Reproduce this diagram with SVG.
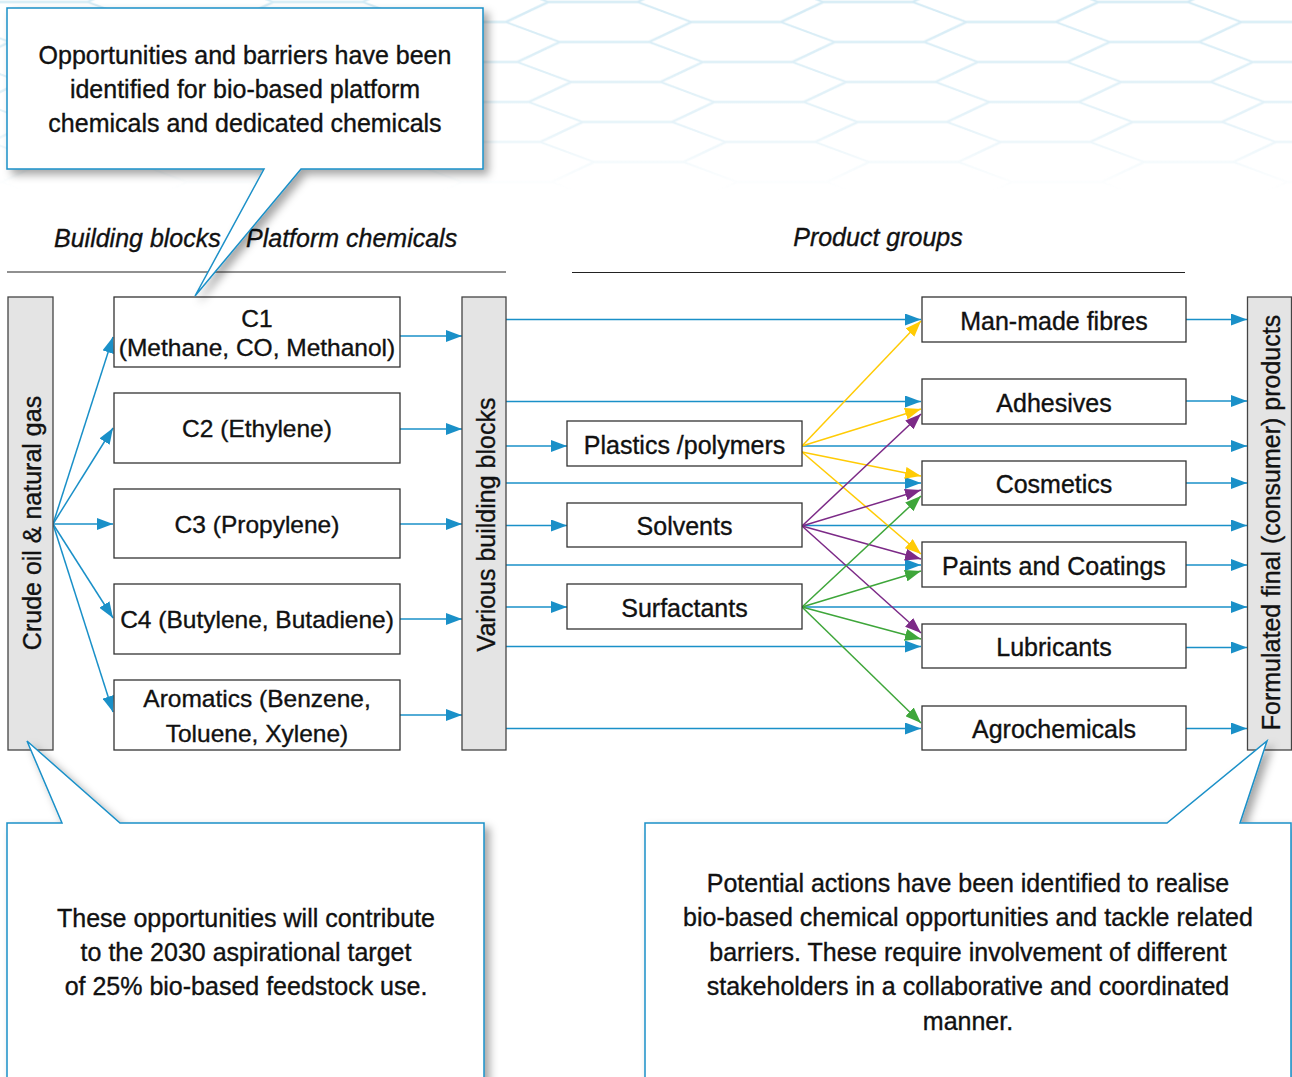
<svg xmlns="http://www.w3.org/2000/svg" width="1292" height="1077" viewBox="0 0 1292 1077">
  <defs>
    <style>
      text { font-family: "Liberation Sans", Arial, sans-serif; fill: #111; stroke: #111; stroke-width: 0.35; }
      .lbl { font-size: 25px; text-anchor: middle; }
      .clbl { font-size: 24.5px; text-anchor: middle; }
      .hdr { font-size: 25px; font-style: italic; }
      .box { fill: #fff; stroke: #333; stroke-width: 1.3; }
      .bar { fill: #e4e4e4; stroke: #444; stroke-width: 1.3; }
      .rule { stroke: #222; stroke-width: 1.2; }
      .callout { fill: #fff; stroke: #1a90c8; stroke-width: 1.5; filter: url(#shadow); }
      .blue { stroke: #1a90c8; stroke-width: 1.5; fill: none; marker-end: url(#ahBlue); }
      .yel { stroke: #ffcb05; stroke-width: 1.5; fill: none; marker-end: url(#ahYel); }
      .pur { stroke: #7c2a87; stroke-width: 1.5; fill: none; marker-end: url(#ahPur); }
      .grn { stroke: #3ea63a; stroke-width: 1.5; fill: none; marker-end: url(#ahGrn); }
    </style>
    <marker id="ahBlue" viewBox="0 0 16 12" refX="16" refY="6" markerWidth="16" markerHeight="12" markerUnits="userSpaceOnUse" orient="auto">
      <path d="M0,0 L16,6 L0,12 Z" fill="#1a90c8"/>
    </marker>
    <marker id="ahYel" viewBox="0 0 16 12" refX="16" refY="6" markerWidth="16" markerHeight="12" markerUnits="userSpaceOnUse" orient="auto">
      <path d="M0,0 L16,6 L0,12 Z" fill="#ffcb05"/>
    </marker>
    <marker id="ahPur" viewBox="0 0 16 12" refX="16" refY="6" markerWidth="16" markerHeight="12" markerUnits="userSpaceOnUse" orient="auto">
      <path d="M0,0 L16,6 L0,12 Z" fill="#7c2a87"/>
    </marker>
    <marker id="ahGrn" viewBox="0 0 16 12" refX="16" refY="6" markerWidth="16" markerHeight="12" markerUnits="userSpaceOnUse" orient="auto">
      <path d="M0,0 L16,6 L0,12 Z" fill="#3ea63a"/>
    </marker>
    <filter id="shadow" x="-10%" y="-10%" width="125%" height="130%">
      <feDropShadow dx="5" dy="5" stdDeviation="4" flood-color="#000" flood-opacity="0.35"/>
    </filter>
    <!-- skewed honeycomb background texture -->
    <pattern id="hex" width="275" height="40" patternUnits="userSpaceOnUse" patternTransform="skewX(16) translate(-2.2,32)">
      <path d="M0,10 H89 L137.5,30 H226.5 L275,10 M89,10 L137.5,-10 M89,50 L137.5,30 M226.5,30 L275,50 M226.5,-10 L275,10" fill="none" stroke="#d4ebf5" stroke-width="2.2"/>
    </pattern>
    <linearGradient id="fadeGrad" gradientUnits="userSpaceOnUse" x1="0" y1="0" x2="0" y2="190">
      <stop offset="0" stop-color="#fff" stop-opacity="1"/>
      <stop offset="0.65" stop-color="#fff" stop-opacity="0.6"/>
      <stop offset="1" stop-color="#fff" stop-opacity="0"/>
    </linearGradient>
    <mask id="fade">
      <rect x="0" y="0" width="1292" height="200" fill="url(#fadeGrad)"/>
    </mask>
  </defs>

  <rect width="1292" height="1077" fill="#fff"/>
  <rect x="0" y="0" width="1292" height="200" fill="url(#hex)" mask="url(#fade)"/>

  <!-- column headings -->
  <g id="headings">
    <text class="hdr" x="54" y="247">Building blocks</text>
    <text class="hdr" x="246" y="247">Platform chemicals</text>
    <text class="hdr" x="878" y="246" text-anchor="middle">Product groups</text>
    <line class="rule" x1="7" y1="272" x2="506" y2="272"/>
    <line class="rule" x1="572" y1="272.5" x2="1185" y2="272.5" stroke="#555" stroke-width="1.5"/>
  </g>

  <!-- connectors -->
  <g id="connectors">
    <!-- crude oil to platform chemicals -->
    <line class="blue" x1="53" y1="524" x2="113" y2="337"/>
    <line class="blue" x1="53" y1="524" x2="113" y2="428"/>
    <line class="blue" x1="53" y1="524" x2="113" y2="524"/>
    <line class="blue" x1="53" y1="524" x2="113" y2="618"/>
    <line class="blue" x1="53" y1="524" x2="113" y2="712"/>
    <!-- platform chemicals to building blocks -->
    <line class="blue" x1="400" y1="336" x2="462" y2="336"/>
    <line class="blue" x1="400" y1="429" x2="462" y2="429"/>
    <line class="blue" x1="400" y1="524" x2="462" y2="524"/>
    <line class="blue" x1="400" y1="619" x2="462" y2="619"/>
    <line class="blue" x1="400" y1="715" x2="462" y2="715"/>
    <!-- building blocks to product groups -->
    <line class="blue" x1="506" y1="319.5" x2="921" y2="319.5"/>
    <line class="blue" x1="506" y1="401.5" x2="921" y2="401.5"/>
    <line class="blue" x1="506" y1="483" x2="921" y2="483"/>
    <line class="blue" x1="506" y1="565" x2="921" y2="565"/>
    <line class="blue" x1="506" y1="646.5" x2="921" y2="646.5"/>
    <line class="blue" x1="506" y1="728.5" x2="921" y2="728.5"/>
    <!-- building blocks to intermediates -->
    <line class="blue" x1="506" y1="446" x2="567" y2="446"/>
    <line class="blue" x1="506" y1="525.5" x2="567" y2="525.5"/>
    <line class="blue" x1="506" y1="607" x2="567" y2="607"/>
    <!-- intermediates straight to final products -->
    <line class="blue" x1="802" y1="446" x2="1247" y2="446"/>
    <line class="blue" x1="802" y1="525.5" x2="1247" y2="525.5"/>
    <line class="blue" x1="802" y1="607" x2="1247" y2="607"/>
    <!-- product groups to final products -->
    <line class="blue" x1="1186" y1="319.5" x2="1247" y2="319.5"/>
    <line class="blue" x1="1186" y1="401" x2="1247" y2="401"/>
    <line class="blue" x1="1186" y1="483" x2="1247" y2="483"/>
    <line class="blue" x1="1186" y1="565" x2="1247" y2="565"/>
    <line class="blue" x1="1186" y1="647.5" x2="1247" y2="647.5"/>
    <line class="blue" x1="1186" y1="728.5" x2="1247" y2="728.5"/>
    <!-- plastics / polymers -->
    <line class="yel" x1="802" y1="446" x2="921" y2="321"/>
    <line class="yel" x1="802" y1="446" x2="921" y2="409"/>
    <line class="yel" x1="802" y1="452" x2="921" y2="476"/>
    <line class="yel" x1="802" y1="452" x2="921" y2="554"/>
    <!-- solvents -->
    <line class="pur" x1="802" y1="526" x2="921" y2="414"/>
    <line class="pur" x1="802" y1="526" x2="921" y2="490"/>
    <line class="pur" x1="802" y1="526" x2="921" y2="559"/>
    <line class="pur" x1="802" y1="526" x2="921" y2="633"/>
    <!-- surfactants -->
    <line class="grn" x1="802" y1="607" x2="921" y2="496"/>
    <line class="grn" x1="802" y1="607" x2="921" y2="571"/>
    <line class="grn" x1="802" y1="607" x2="921" y2="639"/>
    <line class="grn" x1="802" y1="607" x2="921" y2="723"/>
  </g>

  <!-- side bars -->
  <g id="crude-oil">
    <rect class="bar" x="8" y="297" width="45" height="453"/>
    <text class="lbl" transform="translate(40.5,523) rotate(-90)">Crude oil &amp; natural gas</text>
  </g>
  <g id="building-blocks">
    <rect class="bar" x="462" y="297" width="44" height="453"/>
    <text class="lbl" transform="translate(494.5,524.5) rotate(-90)">Various building blocks</text>
  </g>
  <g id="final-products">
    <rect class="bar" x="1247.5" y="297" width="44" height="453"/>
    <text class="lbl" transform="translate(1280,522.5) rotate(-90)">Formulated final (consumer) products</text>
  </g>

  <!-- platform chemicals -->
  <g id="c1">
    <rect class="box" x="114" y="297" width="286" height="70"/>
    <text class="clbl" x="257" y="327">C1</text>
    <text class="clbl" x="257" y="356">(Methane, CO, Methanol)</text>
  </g>
  <g id="c2">
    <rect class="box" x="114" y="393" width="286" height="70"/>
    <text class="clbl" x="257" y="437">C2 (Ethylene)</text>
  </g>
  <g id="c3">
    <rect class="box" x="114" y="489" width="286" height="69"/>
    <text class="clbl" x="257" y="533">C3 (Propylene)</text>
  </g>
  <g id="c4">
    <rect class="box" x="114" y="584" width="286" height="70"/>
    <text class="clbl" x="257" y="628">C4 (Butylene, Butadiene)</text>
  </g>
  <g id="aromatics">
    <rect class="box" x="114" y="680" width="286" height="70"/>
    <text class="clbl" x="257" y="707">Aromatics (Benzene,</text>
    <text class="clbl" x="257" y="742">Toluene, Xylene)</text>
  </g>

  <!-- intermediates -->
  <g id="plastics">
    <rect class="box" x="567" y="421" width="235" height="45"/>
    <text class="lbl" x="684.5" y="453.5">Plastics /polymers</text>
  </g>
  <g id="solvents">
    <rect class="box" x="567" y="503" width="235" height="44"/>
    <text class="lbl" x="684.5" y="535">Solvents</text>
  </g>
  <g id="surfactants">
    <rect class="box" x="567" y="584" width="235" height="45"/>
    <text class="lbl" x="684.5" y="616.5">Surfactants</text>
  </g>

  <!-- product groups -->
  <g id="fibres">
    <rect class="box" x="922" y="297" width="264" height="45"/>
    <text class="lbl" x="1054" y="329.5">Man-made fibres</text>
  </g>
  <g id="adhesives">
    <rect class="box" x="922" y="379" width="264" height="45"/>
    <text class="lbl" x="1054" y="411.5">Adhesives</text>
  </g>
  <g id="cosmetics">
    <rect class="box" x="922" y="461" width="264" height="44"/>
    <text class="lbl" x="1054" y="493">Cosmetics</text>
  </g>
  <g id="paints">
    <rect class="box" x="922" y="542" width="264" height="45"/>
    <text class="lbl" x="1054" y="574.5">Paints and Coatings</text>
  </g>
  <g id="lubricants">
    <rect class="box" x="922" y="624" width="264" height="44"/>
    <text class="lbl" x="1054" y="656">Lubricants</text>
  </g>
  <g id="agrochemicals">
    <rect class="box" x="922" y="706" width="264" height="44"/>
    <text class="lbl" x="1054" y="738">Agrochemicals</text>
  </g>

  <!-- callouts -->
  <g id="callout-top">
    <path class="callout" d="M7,8 H483 V169 H301 L195,296 L264,169 H7 Z"/>
    <text class="lbl" x="245" y="64">Opportunities and barriers have been</text>
    <text class="lbl" x="245" y="98">identified for bio-based platform</text>
    <text class="lbl" x="245" y="132">chemicals and dedicated chemicals</text>
  </g>
  <g id="callout-left">
    <path class="callout" d="M7,823 H62 L27,741 L120,823 H484 V1090 H7 Z"/>
    <text class="lbl" x="246" y="927">These opportunities will contribute</text>
    <text class="lbl" x="246" y="961">to the 2030 aspirational target</text>
    <text class="lbl" x="246" y="995">of 25% bio-based feedstock use.</text>
  </g>
  <g id="callout-right">
    <path class="callout" d="M645,823 H1167 L1267,741 L1240,823 H1291 V1090 H645 Z"/>
    <text class="lbl" x="968" y="892">Potential actions have been identified to realise</text>
    <text class="lbl" x="968" y="926">bio-based chemical opportunities and tackle related</text>
    <text class="lbl" x="968" y="961">barriers. These require involvement of different</text>
    <text class="lbl" x="968" y="995">stakeholders in a collaborative and coordinated</text>
    <text class="lbl" x="968" y="1030">manner.</text>
  </g>
</svg>
